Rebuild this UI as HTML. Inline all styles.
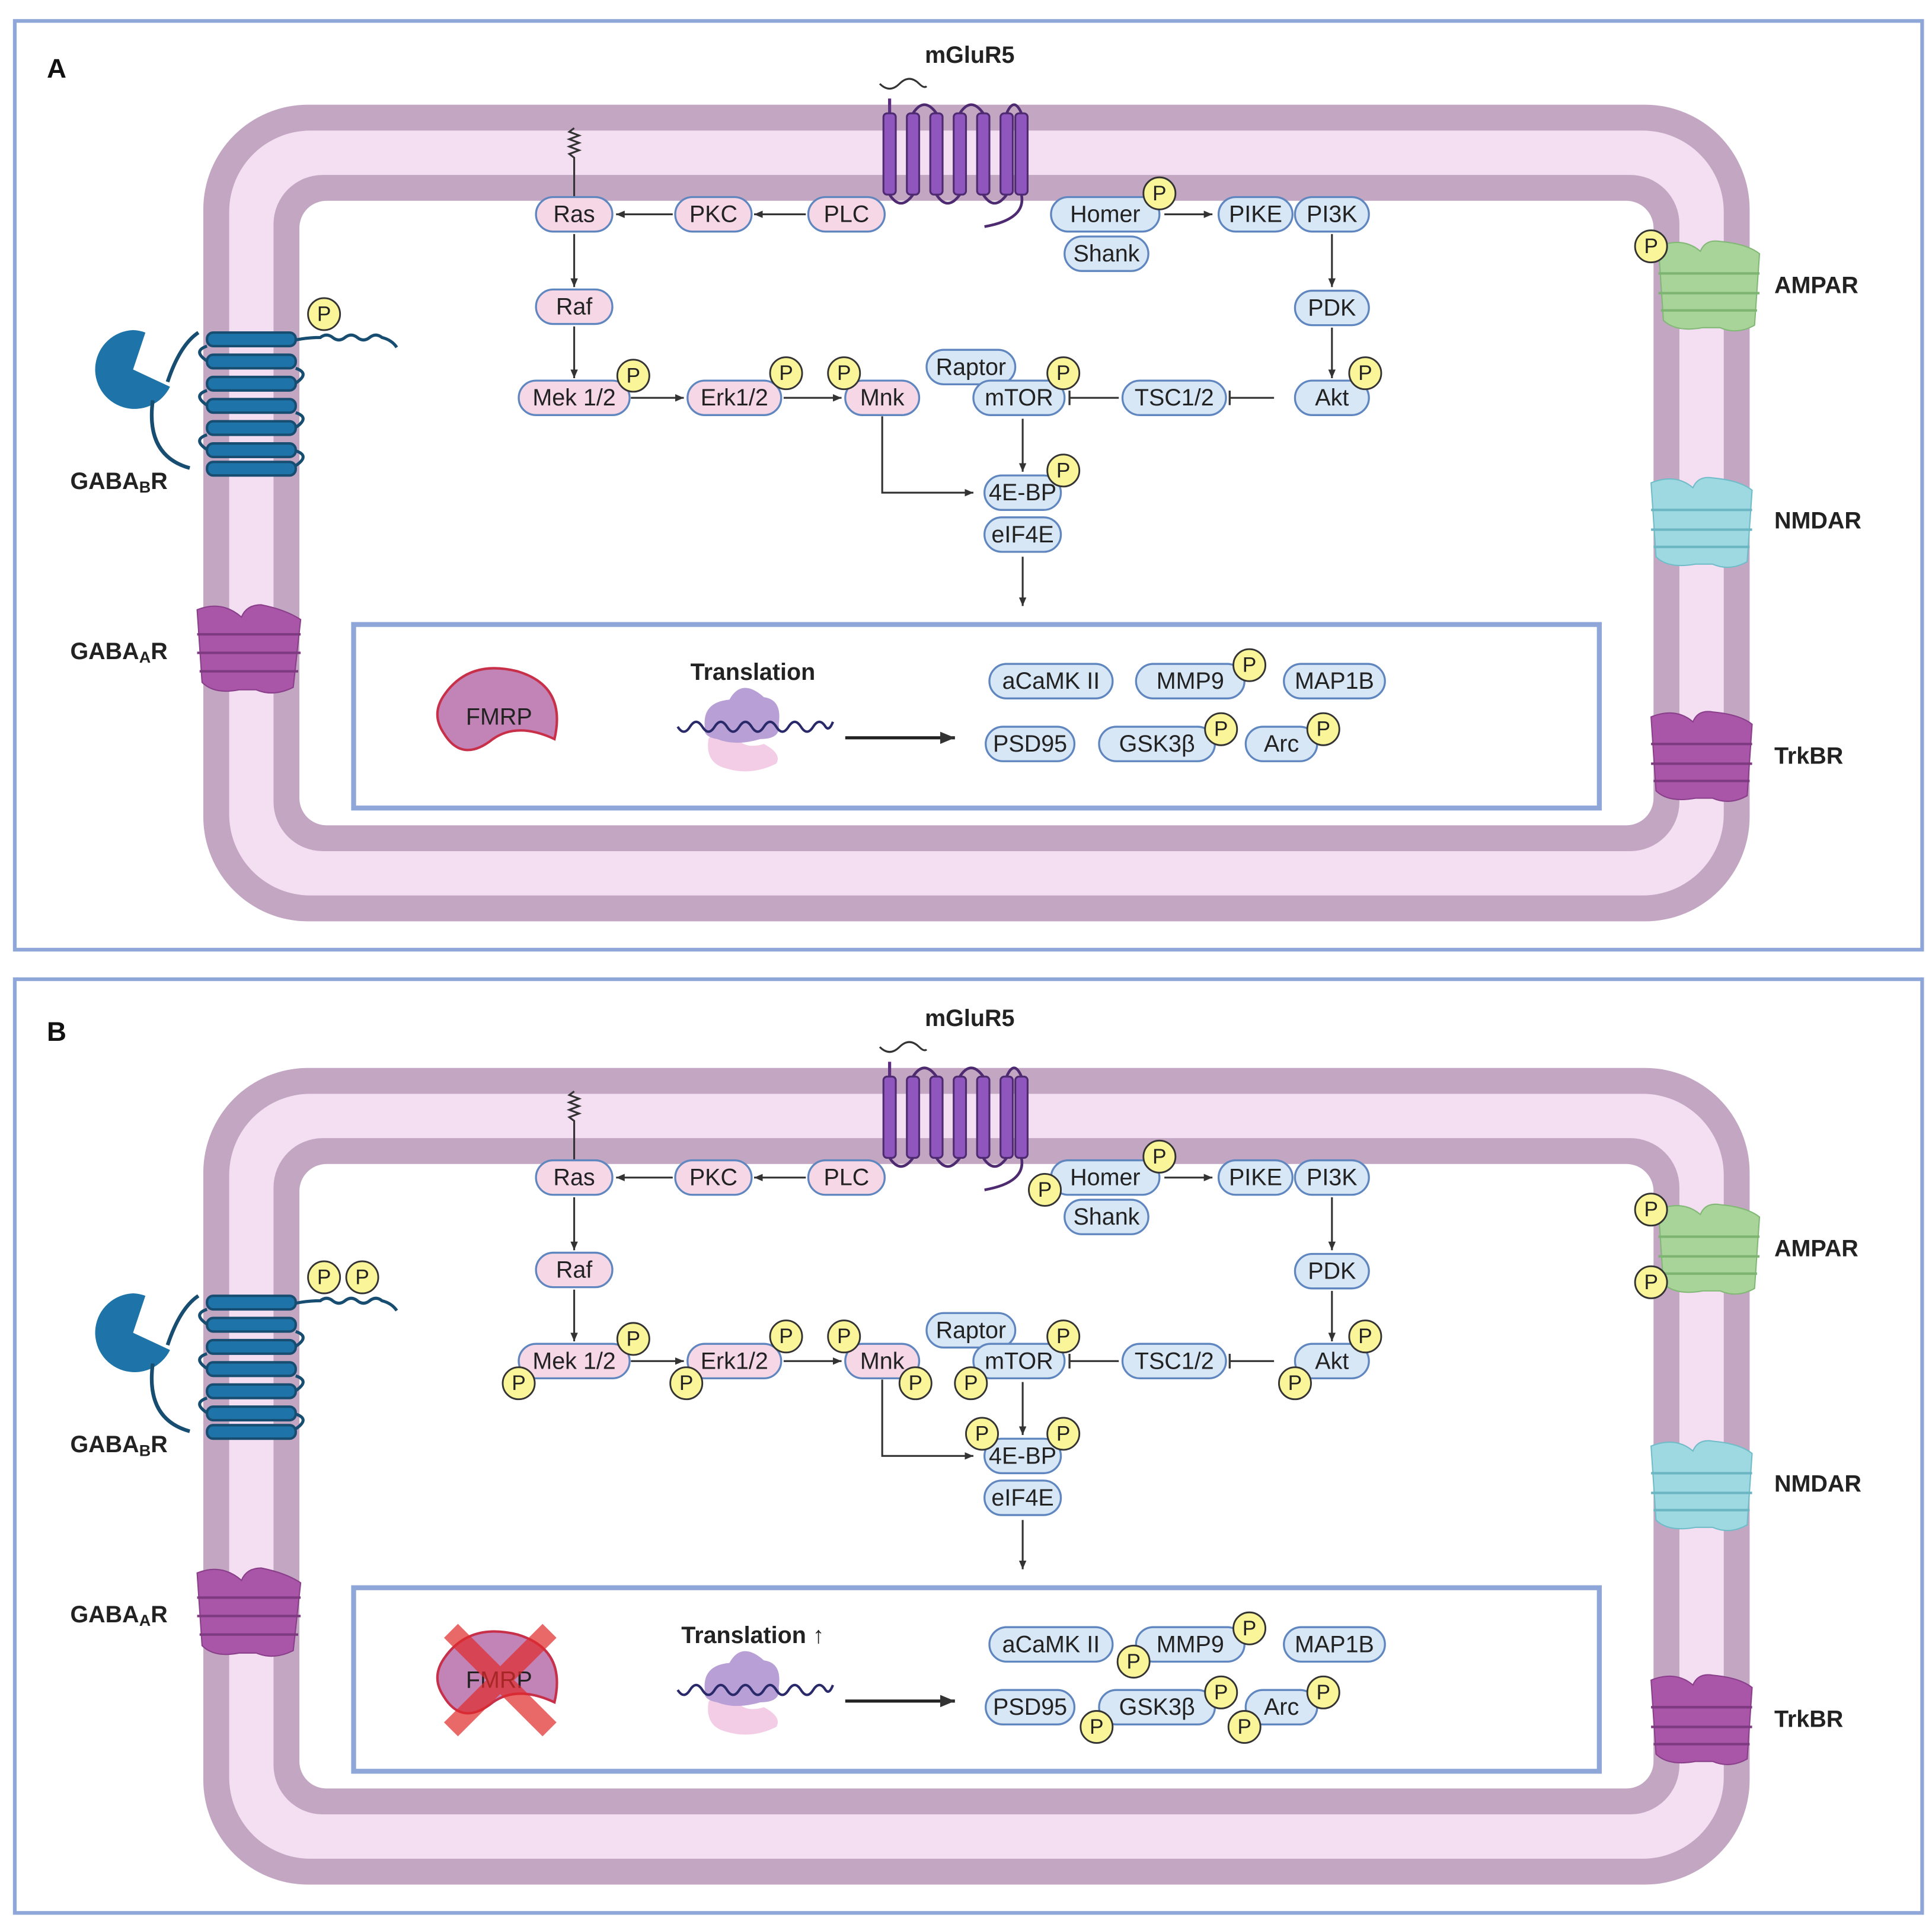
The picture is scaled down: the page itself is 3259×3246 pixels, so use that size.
<!DOCTYPE html>
<html><head><meta charset="utf-8"><style>
html,body{margin:0;padding:0;background:#fff}
svg{display:block}
text{font-family:"Liberation Sans",sans-serif}
.n{font-size:19px;fill:#222;text-anchor:middle;dominant-baseline:central}
.pk{fill:#f6d7e6;stroke:#5f86bf;stroke-width:1.6}
.bl{fill:#d8e7f6;stroke:#5f86bf;stroke-width:1.6}
.pc{fill:#fbf59a;stroke:#333;stroke-width:1.4}
.pt{font-size:17px;fill:#222;text-anchor:middle;dominant-baseline:central}
.ar{stroke:#333;stroke-width:1.5;fill:none}
.lb{font-size:19px;font-weight:bold;fill:#222}
</style></head><body>
<svg width="3259" height="3246" viewBox="0 0 1568 1562" preserveAspectRatio="none" xmlns="http://www.w3.org/2000/svg">
<defs>
<marker id="ah" markerWidth="8" markerHeight="8" refX="7" refY="4" orient="auto" markerUnits="userSpaceOnUse"><path d="M0,1 L7,4 L0,7 z" fill="#333"/></marker>
<marker id="ah2" markerWidth="14" markerHeight="14" refX="12" refY="6" orient="auto" markerUnits="userSpaceOnUse"><path d="M0,1 L12,6 L0,11 z" fill="#333"/></marker>
<marker id="tb" markerWidth="4" markerHeight="12" refX="2" refY="6" orient="auto" markerUnits="userSpaceOnUse"><path d="M2,0 L2,12" stroke="#333" stroke-width="1.6"/></marker>
</defs>
<rect width="1568" height="1562" fill="#fff"/>

<!-- ================= PANEL A ================= -->
<g id="pa">
<rect x="12" y="17" width="1548" height="754" fill="none" stroke="#8fa6d8" stroke-width="3"/>
<text x="38" y="63" style="font-size:22px;font-weight:bold;fill:#111">A</text>
<rect x="165" y="85" width="1255" height="663" rx="85" fill="#c2a6c2"/>
<rect x="186" y="106" width="1213" height="621" rx="66" fill="#f3def2"/>
<rect x="222" y="142" width="1141" height="549" rx="40" fill="#c2a6c2"/>
<rect x="243" y="163" width="1099" height="507" rx="22" fill="#fff"/>
<text x="787" y="51" class="lb" text-anchor="middle">mGluR5</text>
<!-- mGluR5 -->
<path d="M714,68 q8,8 16,0 q8,-8 16,0 q4,4 6,2" class="ar" stroke="#5a2d7e" stroke-width="2.5"/>
<path d="M722,95 L722,80" stroke="#5a2d7e" stroke-width="2.5"/>
<g fill="#8f56bd" stroke="#4e2a70" stroke-width="1.5">
<rect x="717" y="92" width="10" height="66" rx="3"/><rect x="736" y="92" width="10" height="66" rx="3"/><rect x="755" y="92" width="10" height="66" rx="3"/><rect x="774" y="92" width="10" height="66" rx="3"/><rect x="793" y="92" width="10" height="66" rx="3"/><rect x="812" y="92" width="10" height="66" rx="3"/><rect x="824" y="92" width="10" height="66" rx="3"/>
</g>
<path d="M741,92 q9,-14 19,0 M779,92 q9,-14 19,0 M817,92 q6,-14 12,0 M722,158 q9,14 19,0 M760,158 q9,14 19,0 M798,158 q9,14 19,0 M829,158 q4,20 -30,26" fill="none" stroke="#4e2a70" stroke-width="2.2"/>
<!-- Ras anchor -->
<path d="M466,160 L466,128 l-4,-3 l8,-3 l-8,-3 l8,-3 l-8,-3 l8,-3 l-8,-3 l4,-3" class="ar"/>
<!-- GABAB -->
<path d="M108,268 a32,32 0 1 0 30,46 L108,300 L118,270 a32,32 0 0 0 -10,-2z" fill="#1e74a8"/>
<path d="M124,325 q-6,45 30,55 M136,310 q10,-30 25,-40" fill="none" stroke="#174d70" stroke-width="3"/>
<g fill="#1e74a8" stroke="#174d70" stroke-width="2">
<rect x="168" y="270" width="72" height="11" rx="5"/><rect x="168" y="288" width="72" height="11" rx="5"/><rect x="168" y="306" width="72" height="11" rx="5"/><rect x="168" y="324" width="72" height="11" rx="5"/><rect x="168" y="342" width="72" height="11" rx="5"/><rect x="168" y="360" width="72" height="11" rx="5"/><rect x="168" y="375" width="72" height="11" rx="5"/>
</g>
<path d="M168,281 q-12,4 0,12 M168,317 q-12,4 0,12 M168,353 q-12,4 0,12 M240,299 q12,4 0,12 M240,335 q12,4 0,12 M240,366 q12,4 0,12" fill="none" stroke="#174d70" stroke-width="2.5"/>
<path d="M240,276 q10,-2 20,-2 q5,-4 10,0 q5,4 10,0 q5,-4 10,0 q5,4 10,0 q5,-4 10,0 q8,2 12,8" fill="none" stroke="#174d70" stroke-width="2.5"/>
<text x="57" y="397" class="lb">GABA<tspan font-size="13" dy="3">B</tspan><tspan dy="-3">R</tspan></text>
<!-- GABAA -->
<g fill="#a955a8" stroke="#8a3f8a" stroke-width="1"><path d="M160,495 q20,-8 36,6 q4,-10 16,-10 q20,4 32,12 l-6,55 q-16,8 -30,2 l-14,0 q-20,4 -30,-6z"/></g>
<path d="M160,515 h84 M160,530 h84 M162,545 h80" stroke="#7d3a80" stroke-width="2"/>
<text x="57" y="535" class="lb">GABA<tspan font-size="13" dy="3">A</tspan><tspan dy="-3">R</tspan></text>
<!-- AMPAR -->
<path d="M1346,200 q20,-8 34,4 q4,-10 16,-8 q22,2 32,10 l-4,58 q-14,8 -28,2 l-14,0 q-22,4 -32,-6z" fill="#a8d49a" stroke="#82b876"/>
<path d="M1346,222 h82 M1346,238 h82 M1348,252 h78" stroke="#7eb472" stroke-width="2"/>
<text x="1440" y="238" class="lb">AMPAR</text>
<!-- NMDAR -->
<path d="M1340,392 q20,-8 34,4 q4,-10 16,-8 q22,2 32,10 l-4,58 q-14,8 -28,2 l-14,0 q-22,4 -32,-6z" fill="#9ed8e0" stroke="#70bcc8"/>
<path d="M1340,414 h82 M1340,430 h82 M1342,444 h78" stroke="#6bb6c2" stroke-width="2"/>
<text x="1440" y="429" class="lb">NMDAR</text>
<!-- TrkBR -->
<path d="M1340,582 q20,-8 34,4 q4,-10 16,-8 q22,2 32,10 l-4,58 q-14,8 -28,2 l-14,0 q-22,4 -32,-6z" fill="#a955a8" stroke="#8a3f8a"/>
<path d="M1340,604 h82 M1340,620 h82 M1342,634 h78" stroke="#7d3a80" stroke-width="2"/>
<text x="1440" y="620" class="lb">TrkBR</text>
<!-- arrows -->
<path d="M546,174 L500,174" class="ar" marker-end="url(#ah)"/>
<path d="M654,174 L612,174" class="ar" marker-end="url(#ah)"/>
<path d="M945,174 L984,174" class="ar" marker-end="url(#ah)"/>
<path d="M1081,190 L1081,233" class="ar" marker-end="url(#ah)"/>
<path d="M1081,266 L1081,307" class="ar" marker-end="url(#ah)"/>
<path d="M1034,323 L998,323" class="ar" marker-end="url(#tb)"/>
<path d="M908,323 L868,323" class="ar" marker-end="url(#tb)"/>
<path d="M466,190 L466,233" class="ar" marker-end="url(#ah)"/>
<path d="M466,265 L466,307" class="ar" marker-end="url(#ah)"/>
<path d="M512,323 L555,323" class="ar" marker-end="url(#ah)"/>
<path d="M636,323 L683,323" class="ar" marker-end="url(#ah)"/>
<path d="M716,338 L716,400 L790,400" class="ar" marker-end="url(#ah)"/>
<path d="M830,340 L830,383" class="ar" marker-end="url(#ah)"/>
<path d="M830,452 L830,492" class="ar" marker-end="url(#ah)"/>
<!-- nodes -->
<rect x="435" y="160" width="62" height="28" rx="14" class="pk"/><text x="466" y="174" class="n">Ras</text>
<rect x="548" y="160" width="62" height="28" rx="14" class="pk"/><text x="579" y="174" class="n">PKC</text>
<rect x="656" y="160" width="62" height="28" rx="14" class="pk"/><text x="687" y="174" class="n">PLC</text>
<rect x="435" y="235" width="62" height="28" rx="14" class="pk"/><text x="466" y="249" class="n">Raf</text>
<rect x="421" y="309" width="90" height="28" rx="14" class="pk"/><text x="466" y="323" class="n">Mek 1/2</text>
<rect x="558" y="309" width="76" height="28" rx="14" class="pk"/><text x="596" y="323" class="n">Erk1/2</text>
<rect x="686" y="309" width="60" height="28" rx="14" class="pk"/><text x="716" y="323" class="n">Mnk</text>
<rect x="853" y="160" width="88" height="28" rx="14" class="bl"/><text x="897" y="174" class="n">Homer</text>
<rect x="864" y="192" width="68" height="28" rx="14" class="bl"/><text x="898" y="206" class="n">Shank</text>
<rect x="989" y="160" width="60" height="28" rx="14" class="bl"/><text x="1019" y="174" class="n">PIKE</text>
<rect x="1051" y="160" width="60" height="28" rx="14" class="bl"/><text x="1081" y="174" class="n">PI3K</text>
<rect x="1051" y="236" width="60" height="28" rx="14" class="bl"/><text x="1081" y="250" class="n">PDK</text>
<rect x="1051" y="309" width="60" height="28" rx="14" class="bl"/><text x="1081" y="323" class="n">Akt</text>
<rect x="911" y="309" width="84" height="28" rx="14" class="bl"/><text x="953" y="323" class="n">TSC1/2</text>
<rect x="752" y="284" width="72" height="28" rx="14" class="bl"/><text x="788" y="298" class="n">Raptor</text>
<rect x="790" y="309" width="74" height="28" rx="14" class="bl"/><text x="827" y="323" class="n">mTOR</text>
<rect x="799" y="386" width="62" height="28" rx="14" class="bl"/><text x="830" y="400" class="n">4E-BP</text>
<rect x="799" y="420" width="62" height="28" rx="14" class="bl"/><text x="830" y="434" class="n">eIF4E</text>
<!-- inner box -->
<rect x="287" y="507" width="1011" height="149" fill="none" stroke="#8fa6d8" stroke-width="4"/>
<path d="M360,565 q20,-30 60,-20 q40,12 30,55 q-30,-14 -50,0 q-25,20 -40,-5 q-10,-15 0,-30z" fill="#c283b6" stroke="#c8304a" stroke-width="2"/>
<text x="405" y="582" class="n">FMRP</text>
<text x="611" y="552" class="lb" text-anchor="middle">Translation</text>
<path d="M575,600 q5,-10 20,-8 q5,18 25,12 q15,8 10,16 q-20,10 -40,4 q-18,-4 -15,-24z" fill="#f3cde6"/>
<path d="M572,590 q-2,-20 20,-22 q10,-18 28,-2 q15,2 12,22 q2,12 -15,12 q-20,6 -35,0 q-12,-2 -10,-10z" fill="#b89fd6"/>
<path d="M550,590 q5,8 10,0 q5,-8 10,0 q5,8 10,0 q5,-8 10,0 q5,8 10,0 q5,-8 10,0 q5,8 10,0 q5,-8 10,0 q5,8 10,0 q5,-8 10,0 q5,8 10,0 q5,-8 10,0 q3,4 6,-4" fill="none" stroke="#2a2a6a" stroke-width="2"/>
<path d="M686,599 L775,599" stroke="#222" stroke-width="2.5" marker-end="url(#ah2)"/>
<rect x="803" y="539" width="100" height="28" rx="14" class="bl"/><text x="853" y="553" class="n">aCaMK II</text>
<rect x="922" y="539" width="88" height="28" rx="14" class="bl"/><text x="966" y="553" class="n">MMP9</text>
<rect x="1042" y="539" width="82" height="28" rx="14" class="bl"/><text x="1083" y="553" class="n">MAP1B</text>
<rect x="800" y="590" width="72" height="28" rx="14" class="bl"/><text x="836" y="604" class="n">PSD95</text>
<rect x="892" y="590" width="94" height="28" rx="14" class="bl"/><text x="939" y="604" class="n">GSK3β</text>
<rect x="1011" y="590" width="58" height="28" rx="14" class="bl"/><text x="1040" y="604" class="n">Arc</text>
<!-- P -->
<circle cx="941" cy="157" r="13" class="pc"/><text x="941" y="157" class="pt">P</text>
<circle cx="514" cy="305" r="13" class="pc"/><text x="514" y="305" class="pt">P</text>
<circle cx="638" cy="303" r="13" class="pc"/><text x="638" y="303" class="pt">P</text>
<circle cx="685" cy="303" r="13" class="pc"/><text x="685" y="303" class="pt">P</text>
<circle cx="863" cy="303" r="13" class="pc"/><text x="863" y="303" class="pt">P</text>
<circle cx="1108" cy="303" r="13" class="pc"/><text x="1108" y="303" class="pt">P</text>
<circle cx="863" cy="382" r="13" class="pc"/><text x="863" y="382" class="pt">P</text>
<circle cx="1014" cy="540" r="13" class="pc"/><text x="1014" y="540" class="pt">P</text>
<circle cx="991" cy="592" r="13" class="pc"/><text x="991" y="592" class="pt">P</text>
<circle cx="1074" cy="592" r="13" class="pc"/><text x="1074" y="592" class="pt">P</text>
<circle cx="263" cy="255" r="13" class="pc"/><text x="263" y="255" class="pt">P</text>
<circle cx="1340" cy="200" r="13" class="pc"/><text x="1340" y="200" class="pt">P</text>
</g>

<!-- ================= PANEL B ================= -->
<g transform="translate(0,782)">
<rect x="12" y="13" width="1548" height="758" fill="none" stroke="#8fa6d8" stroke-width="3"/>
<text x="38" y="63" style="font-size:22px;font-weight:bold;fill:#111">B</text>
<rect x="165" y="85" width="1255" height="663" rx="85" fill="#c2a6c2"/>
<rect x="186" y="106" width="1213" height="621" rx="66" fill="#f3def2"/>
<rect x="222" y="142" width="1141" height="549" rx="40" fill="#c2a6c2"/>
<rect x="243" y="163" width="1099" height="507" rx="22" fill="#fff"/>
<text x="787" y="51" class="lb" text-anchor="middle">mGluR5</text>
<path d="M714,68 q8,8 16,0 q8,-8 16,0 q4,4 6,2" class="ar" stroke="#5a2d7e" stroke-width="2.5"/>
<path d="M722,95 L722,80" stroke="#5a2d7e" stroke-width="2.5"/>
<g fill="#8f56bd" stroke="#4e2a70" stroke-width="1.5">
<rect x="717" y="92" width="10" height="66" rx="3"/><rect x="736" y="92" width="10" height="66" rx="3"/><rect x="755" y="92" width="10" height="66" rx="3"/><rect x="774" y="92" width="10" height="66" rx="3"/><rect x="793" y="92" width="10" height="66" rx="3"/><rect x="812" y="92" width="10" height="66" rx="3"/><rect x="824" y="92" width="10" height="66" rx="3"/>
</g>
<path d="M741,92 q9,-14 19,0 M779,92 q9,-14 19,0 M817,92 q6,-14 12,0 M722,158 q9,14 19,0 M760,158 q9,14 19,0 M798,158 q9,14 19,0 M829,158 q4,20 -30,26" fill="none" stroke="#4e2a70" stroke-width="2.2"/>
<path d="M466,160 L466,128 l-4,-3 l8,-3 l-8,-3 l8,-3 l-8,-3 l8,-3 l-8,-3 l4,-3" class="ar"/>
<path d="M108,268 a32,32 0 1 0 30,46 L108,300 L118,270 a32,32 0 0 0 -10,-2z" fill="#1e74a8"/>
<path d="M124,325 q-6,45 30,55 M136,310 q10,-30 25,-40" fill="none" stroke="#174d70" stroke-width="3"/>
<g fill="#1e74a8" stroke="#174d70" stroke-width="2">
<rect x="168" y="270" width="72" height="11" rx="5"/><rect x="168" y="288" width="72" height="11" rx="5"/><rect x="168" y="306" width="72" height="11" rx="5"/><rect x="168" y="324" width="72" height="11" rx="5"/><rect x="168" y="342" width="72" height="11" rx="5"/><rect x="168" y="360" width="72" height="11" rx="5"/><rect x="168" y="375" width="72" height="11" rx="5"/>
</g>
<path d="M168,281 q-12,4 0,12 M168,317 q-12,4 0,12 M168,353 q-12,4 0,12 M240,299 q12,4 0,12 M240,335 q12,4 0,12 M240,366 q12,4 0,12" fill="none" stroke="#174d70" stroke-width="2.5"/>
<path d="M240,276 q10,-2 20,-2 q5,-4 10,0 q5,4 10,0 q5,-4 10,0 q5,4 10,0 q5,-4 10,0 q8,2 12,8" fill="none" stroke="#174d70" stroke-width="2.5"/>
<text x="57" y="397" class="lb">GABA<tspan font-size="13" dy="3">B</tspan><tspan dy="-3">R</tspan></text>
<g fill="#a955a8" stroke="#8a3f8a" stroke-width="1"><path d="M160,495 q20,-8 36,6 q4,-10 16,-10 q20,4 32,12 l-6,55 q-16,8 -30,2 l-14,0 q-20,4 -30,-6z"/></g>
<path d="M160,515 h84 M160,530 h84 M162,545 h80" stroke="#7d3a80" stroke-width="2"/>
<text x="57" y="535" class="lb">GABA<tspan font-size="13" dy="3">A</tspan><tspan dy="-3">R</tspan></text>
<path d="M1346,200 q20,-8 34,4 q4,-10 16,-8 q22,2 32,10 l-4,58 q-14,8 -28,2 l-14,0 q-22,4 -32,-6z" fill="#a8d49a" stroke="#82b876"/>
<path d="M1346,222 h82 M1346,238 h82 M1348,252 h78" stroke="#7eb472" stroke-width="2"/>
<text x="1440" y="238" class="lb">AMPAR</text>
<path d="M1340,392 q20,-8 34,4 q4,-10 16,-8 q22,2 32,10 l-4,58 q-14,8 -28,2 l-14,0 q-22,4 -32,-6z" fill="#9ed8e0" stroke="#70bcc8"/>
<path d="M1340,414 h82 M1340,430 h82 M1342,444 h78" stroke="#6bb6c2" stroke-width="2"/>
<text x="1440" y="429" class="lb">NMDAR</text>
<path d="M1340,582 q20,-8 34,4 q4,-10 16,-8 q22,2 32,10 l-4,58 q-14,8 -28,2 l-14,0 q-22,4 -32,-6z" fill="#a955a8" stroke="#8a3f8a"/>
<path d="M1340,604 h82 M1340,620 h82 M1342,634 h78" stroke="#7d3a80" stroke-width="2"/>
<text x="1440" y="620" class="lb">TrkBR</text>
<path d="M546,174 L500,174" class="ar" marker-end="url(#ah)"/>
<path d="M654,174 L612,174" class="ar" marker-end="url(#ah)"/>
<path d="M945,174 L984,174" class="ar" marker-end="url(#ah)"/>
<path d="M1081,190 L1081,233" class="ar" marker-end="url(#ah)"/>
<path d="M1081,266 L1081,307" class="ar" marker-end="url(#ah)"/>
<path d="M1034,323 L998,323" class="ar" marker-end="url(#tb)"/>
<path d="M908,323 L868,323" class="ar" marker-end="url(#tb)"/>
<path d="M466,190 L466,233" class="ar" marker-end="url(#ah)"/>
<path d="M466,265 L466,307" class="ar" marker-end="url(#ah)"/>
<path d="M512,323 L555,323" class="ar" marker-end="url(#ah)"/>
<path d="M636,323 L683,323" class="ar" marker-end="url(#ah)"/>
<path d="M716,338 L716,400 L790,400" class="ar" marker-end="url(#ah)"/>
<path d="M830,340 L830,383" class="ar" marker-end="url(#ah)"/>
<path d="M830,452 L830,492" class="ar" marker-end="url(#ah)"/>
<rect x="435" y="160" width="62" height="28" rx="14" class="pk"/><text x="466" y="174" class="n">Ras</text>
<rect x="548" y="160" width="62" height="28" rx="14" class="pk"/><text x="579" y="174" class="n">PKC</text>
<rect x="656" y="160" width="62" height="28" rx="14" class="pk"/><text x="687" y="174" class="n">PLC</text>
<rect x="435" y="235" width="62" height="28" rx="14" class="pk"/><text x="466" y="249" class="n">Raf</text>
<rect x="421" y="309" width="90" height="28" rx="14" class="pk"/><text x="466" y="323" class="n">Mek 1/2</text>
<rect x="558" y="309" width="76" height="28" rx="14" class="pk"/><text x="596" y="323" class="n">Erk1/2</text>
<rect x="686" y="309" width="60" height="28" rx="14" class="pk"/><text x="716" y="323" class="n">Mnk</text>
<rect x="853" y="160" width="88" height="28" rx="14" class="bl"/><text x="897" y="174" class="n">Homer</text>
<rect x="864" y="192" width="68" height="28" rx="14" class="bl"/><text x="898" y="206" class="n">Shank</text>
<rect x="989" y="160" width="60" height="28" rx="14" class="bl"/><text x="1019" y="174" class="n">PIKE</text>
<rect x="1051" y="160" width="60" height="28" rx="14" class="bl"/><text x="1081" y="174" class="n">PI3K</text>
<rect x="1051" y="236" width="60" height="28" rx="14" class="bl"/><text x="1081" y="250" class="n">PDK</text>
<rect x="1051" y="309" width="60" height="28" rx="14" class="bl"/><text x="1081" y="323" class="n">Akt</text>
<rect x="911" y="309" width="84" height="28" rx="14" class="bl"/><text x="953" y="323" class="n">TSC1/2</text>
<rect x="752" y="284" width="72" height="28" rx="14" class="bl"/><text x="788" y="298" class="n">Raptor</text>
<rect x="790" y="309" width="74" height="28" rx="14" class="bl"/><text x="827" y="323" class="n">mTOR</text>
<rect x="799" y="386" width="62" height="28" rx="14" class="bl"/><text x="830" y="400" class="n">4E-BP</text>
<rect x="799" y="420" width="62" height="28" rx="14" class="bl"/><text x="830" y="434" class="n">eIF4E</text>
<rect x="287" y="507" width="1011" height="149" fill="none" stroke="#8fa6d8" stroke-width="4"/>
<path d="M360,565 q20,-30 60,-20 q40,12 30,55 q-30,-14 -50,0 q-25,20 -40,-5 q-10,-15 0,-30z" fill="#c283b6" stroke="#c8304a" stroke-width="2"/>
<text x="405" y="582" class="n">FMRP</text>
<g stroke="#e02a2a" stroke-width="16" opacity="0.7"><path d="M366,542 L446,622 M446,542 L366,622"/></g>
<text x="611" y="552" class="lb" text-anchor="middle">Translation ↑</text>
<path d="M575,600 q5,-10 20,-8 q5,18 25,12 q15,8 10,16 q-20,10 -40,4 q-18,-4 -15,-24z" fill="#f3cde6"/>
<path d="M572,590 q-2,-20 20,-22 q10,-18 28,-2 q15,2 12,22 q2,12 -15,12 q-20,6 -35,0 q-12,-2 -10,-10z" fill="#b89fd6"/>
<path d="M550,590 q5,8 10,0 q5,-8 10,0 q5,8 10,0 q5,-8 10,0 q5,8 10,0 q5,-8 10,0 q5,8 10,0 q5,-8 10,0 q5,8 10,0 q5,-8 10,0 q5,8 10,0 q5,-8 10,0 q3,4 6,-4" fill="none" stroke="#2a2a6a" stroke-width="2"/>
<path d="M686,599 L775,599" stroke="#222" stroke-width="2.5" marker-end="url(#ah2)"/>
<rect x="803" y="539" width="100" height="28" rx="14" class="bl"/><text x="853" y="553" class="n">aCaMK II</text>
<rect x="922" y="539" width="88" height="28" rx="14" class="bl"/><text x="966" y="553" class="n">MMP9</text>
<rect x="1042" y="539" width="82" height="28" rx="14" class="bl"/><text x="1083" y="553" class="n">MAP1B</text>
<rect x="800" y="590" width="72" height="28" rx="14" class="bl"/><text x="836" y="604" class="n">PSD95</text>
<rect x="892" y="590" width="94" height="28" rx="14" class="bl"/><text x="939" y="604" class="n">GSK3β</text>
<rect x="1011" y="590" width="58" height="28" rx="14" class="bl"/><text x="1040" y="604" class="n">Arc</text>
<circle cx="941" cy="157" r="13" class="pc"/><text x="941" y="157" class="pt">P</text>
<circle cx="514" cy="305" r="13" class="pc"/><text x="514" y="305" class="pt">P</text>
<circle cx="638" cy="303" r="13" class="pc"/><text x="638" y="303" class="pt">P</text>
<circle cx="685" cy="303" r="13" class="pc"/><text x="685" y="303" class="pt">P</text>
<circle cx="863" cy="303" r="13" class="pc"/><text x="863" y="303" class="pt">P</text>
<circle cx="1108" cy="303" r="13" class="pc"/><text x="1108" y="303" class="pt">P</text>
<circle cx="863" cy="382" r="13" class="pc"/><text x="863" y="382" class="pt">P</text>
<circle cx="1014" cy="540" r="13" class="pc"/><text x="1014" y="540" class="pt">P</text>
<circle cx="991" cy="592" r="13" class="pc"/><text x="991" y="592" class="pt">P</text>
<circle cx="1074" cy="592" r="13" class="pc"/><text x="1074" y="592" class="pt">P</text>
<circle cx="263" cy="255" r="13" class="pc"/><text x="263" y="255" class="pt">P</text>
<circle cx="1340" cy="200" r="13" class="pc"/><text x="1340" y="200" class="pt">P</text>
<!-- extra P -->
<circle cx="848" cy="184" r="13" class="pc"/><text x="848" y="184" class="pt">P</text>
<circle cx="421" cy="341" r="13" class="pc"/><text x="421" y="341" class="pt">P</text>
<circle cx="557" cy="341" r="13" class="pc"/><text x="557" y="341" class="pt">P</text>
<circle cx="743" cy="341" r="13" class="pc"/><text x="743" y="341" class="pt">P</text>
<circle cx="788" cy="341" r="13" class="pc"/><text x="788" y="341" class="pt">P</text>
<circle cx="1051" cy="341" r="13" class="pc"/><text x="1051" y="341" class="pt">P</text>
<circle cx="797" cy="382" r="13" class="pc"/><text x="797" y="382" class="pt">P</text>
<circle cx="920" cy="567" r="13" class="pc"/><text x="920" y="567" class="pt">P</text>
<circle cx="890" cy="620" r="13" class="pc"/><text x="890" y="620" class="pt">P</text>
<circle cx="1010" cy="620" r="13" class="pc"/><text x="1010" y="620" class="pt">P</text>
<circle cx="294" cy="255" r="13" class="pc"/><text x="294" y="255" class="pt">P</text>
<circle cx="1340" cy="259" r="13" class="pc"/><text x="1340" y="259" class="pt">P</text>
</g>
</svg>
</body></html>
